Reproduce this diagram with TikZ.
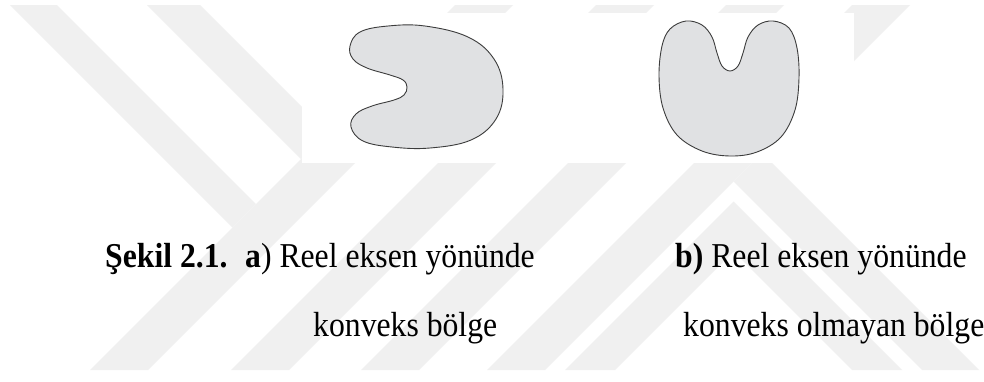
\documentclass[tikz,border=0pt]{standalone}
\usepackage{fontspec}
\usepackage{graphicx}
\setmainfont{Liberation Serif}
\definecolor{wmgray}{RGB}{240,240,240}
\definecolor{regionfill}{RGB}{224,225,227}
\definecolor{regionline}{RGB}{60,60,60}
\newcommand{\tallt}[1]{\scalebox{1}[1.1]{#1}}
\begin{document}
\begin{tikzpicture}[x=1pt,y=-1pt,
  wm/.style={fill=wmgray},
  region/.style={fill=regionfill,draw=regionline,line width=0.9pt},
  lbl/.style={inner sep=0pt,anchor=base west,font=\fontsize{31.7pt}{38pt}\selectfont}]
\useasboundingbox (0,0) rectangle (984,381);
\fill[white] (0,0) rectangle (984,381);
% watermark
\begin{scope}
\clip (0,5) rectangle (984,370);
\fill[wm] (10,5) -- (57,5) -- (256,204) -- (232.5,227.5) -- cycle;
\fill[wm] (147,5) -- (200,5) -- (327.5,132.5) -- (301,159) -- cycle;
\foreach \L in {90,231,361,487}{
  \fill[wm] (\L,370) -- (\L+58,370) -- (\L+423,5) -- (\L+365,5) -- cycle;
}
\fill[wm] (762,153) -- (979,370) -- (922,370) -- (733.5,181.5) -- cycle;
\fill[wm] (733.5,201.5) -- (902,370) -- (852,370) -- (733.5,251.5) -- (615,370) -- (565,370) -- cycle;
\end{scope}
\fill[white] (302,13) rectangle (854,163);
% region a (convex in real direction)
\draw[region] plot[smooth cycle,tension=0.65] coordinates {
  (425,26) (468,37) (494,59) (503,89) (496,119) (471,140) (430,148)
  (392,147) (363,141) (351,127) (356,114) (372,106) (394,100) (404,95)
  (407,87) (403,80) (390,75) (367,68) (353,59) (350,46) (360,32) (388,26)};
% region b (not convex)
\draw[region] plot[smooth cycle,tension=0.6] coordinates {
  (686,21) (702,25) (712,37) (717,53) (722,66) (730,71) (738,66)
  (743,53) (748,37) (758,25) (773,21) (789,28) (797,48) (799,78)
  (795,110) (781,137) (757,152) (730,156) (702,151) (677,135)
  (663,108) (659,76) (662,46) (670,29)};
% captions
\node[lbl] (cap) at (105,267) {\tallt{\textbf{Şekil 2.1.}}};
\node[lbl] (capa) at (245,267) {\tallt{\textbf{a})~Reel eksen yönünde}};
\node[lbl] (capa2) at (313,336) {\tallt{konveks bölge}};
\node[lbl] (capb) at (675,267) {\tallt{\textbf{b)}~Reel eksen yönünde}};
\node[lbl] (capb2) at (683,336) {\tallt{konveks olmayan bölge}};
\end{tikzpicture}
\end{document}
